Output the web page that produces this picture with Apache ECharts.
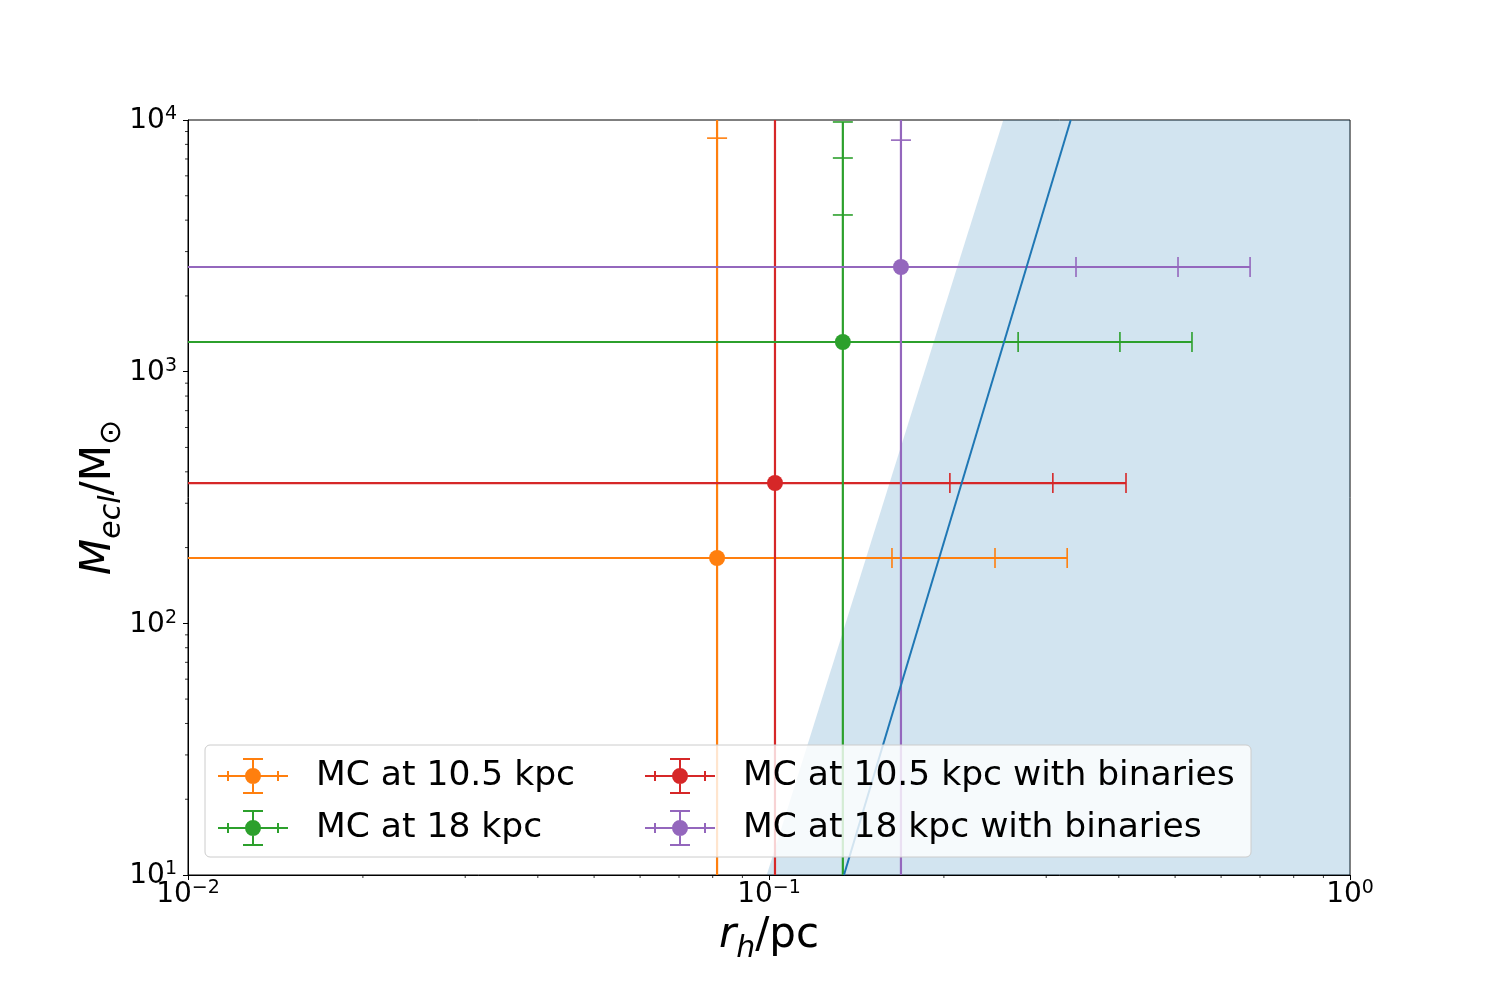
<!DOCTYPE html>
<html>
<head>
<meta charset="utf-8">
<script src="https://cdn.jsdelivr.net/npm/echarts@6/dist/echarts.min.js"></script>
<style>html,body{margin:0;background:#fff}#main{width:1500px;height:1000px}</style>
</head>
<body>
<div id="main"></div>
<script>
// clusters: centre values and three error sizes each
var names = ['MC at 10.5 kpc', 'MC at 10.5 kpc with binaries', 'MC at 18 kpc', 'MC at 18 kpc with binaries'];
var colors = ['#ff7f0e', '#d62728', '#2ca02c', '#9467bd'];
var rh = [0.0814, 0.1024, 0.134, 0.1687];
var mecl = [181.8, 361, 1312, 2605];
var rhErr = [[0.0814, 0.1635, 0.2446], [0.1024, 0.2056, 0.3092], [0.1344, 0.2678, 0.4006], [0.1689, 0.3371, 0.5043]];
var meclErr = [[8290, 16580, 24870], [12000, 24000, 36000], [2882, 5751, 8508], [5713, 11430, 17140]];
// limit line and shaded zone
var lineRh = [0.1346, 0.3306];
var lineM = [10, 10000];
var shadeRh = [0.0991, 0.2531, 1];
var shadeM = [10, 10000, 10000];
// minor tick values (2..9 per decade)
var minorX = [], minorY = [];
[0.01, 0.1].forEach(function (d) { for (var k = 2; k < 10; k++) minorX.push(k * d); });
[10, 100, 1000].forEach(function (d) { for (var k = 2; k < 10; k++) minorY.push(k * d); });

var font = 'DejaVu Sans';
var chart = echarts.init(document.getElementById('main'));

function powLabel(v) {
    var e = Math.round(Math.log10(v));
    return '{b|10}{s|' + (e < 0 ? '\u2212' + (-e) : e) + '}';
}
var tickRich = {
    b: {fontSize: 28, fontFamily: font, color: '#000', lineHeight: 30, verticalAlign: 'bottom'},
    s: {fontSize: 19, fontFamily: font, color: '#000', lineHeight: 20, padding: [0, 0, 12, 0], verticalAlign: 'top'}
};
var nameRich = {
    i: {fontSize: 42, fontFamily: font, fontStyle: 'italic', color: '#000', lineHeight: 46, verticalAlign: 'top'},
    n: {fontSize: 42, fontFamily: font, color: '#000', lineHeight: 46, verticalAlign: 'top'},
    sub: {fontSize: 30, fontFamily: font, fontStyle: 'italic', color: '#000', lineHeight: 32, padding: [19, 0, 0, 0], verticalAlign: 'top'},
    subn: {fontSize: 30, fontFamily: font, color: '#000', lineHeight: 32, padding: [19, 0, 0, 0], verticalAlign: 'top'}
};

function errRender(k) {
    return function (params, api) {
        var x = api.value(0), y = api.value(1);
        var col = colors[k];
        var ex = rhErr[k], ey = meclErr[k];
        var pos = function (v, fb) { return v > 0 ? v : fb; };
        var kids = [];
        function seg(a, b, w) {
            kids.push({type: 'line', shape: {x1: a[0], y1: a[1], x2: b[0], y2: b[1]},
                style: {stroke: col, lineWidth: w}});
        }
        // main bars
        seg(api.coord([pos(x - ex[2], 1e-6), y]), api.coord([x + ex[2], y]), 2.2);
        seg(api.coord([x, pos(y - ey[2], 1e-3)]), api.coord([x, y + ey[2]]), 2.2);
        // caps
        for (var i = 0; i < 3; i++) {
            var r = api.coord([x + ex[i], y]);
            seg([r[0], r[1] - 10], [r[0], r[1] + 10], 1.6);
            if (x - ex[i] > 0) {
                var l = api.coord([x - ex[i], y]);
                seg([l[0], l[1] - 10], [l[0], l[1] + 10], 1.6);
            }
            var t = api.coord([x, y + ey[i]]);
            seg([t[0] - 10, t[1]], [t[0] + 10, t[1]], 1.6);
            if (y - ey[i] > 0) {
                var b = api.coord([x, y - ey[i]]);
                seg([b[0] - 10, b[1]], [b[0] + 10, b[1]], 1.6);
            }
        }
        var c = api.coord([x, y]);
        kids.push({type: 'circle', shape: {cx: c[0], cy: c[1], r: 8}, style: {fill: col}});
        return {type: 'group', children: kids};
    };
}

// small outward ticks at the axis edges
function minorTick(dir) {
    return function (params, api) {
        var c = api.coord([api.value(0), api.value(1)]);
        var s = dir === 'x' ? {x1: c[0], y1: c[1], x2: c[0], y2: c[1] + 3}
                            : {x1: c[0], y1: c[1], x2: c[0] - 3, y2: c[1]};
        return {type: 'line', shape: s, style: {stroke: '#000', lineWidth: 0.8}};
    };
}

var errIcon = 'path://M0 17H70V19H0Z M34 0H36V36H34Z M25 0H45V2H25Z M25 34H45V36H25Z M9 13H11V23H9Z M59 13H61V23H59Z M43 18A8 8 0 1 1 27 18A8 8 0 1 1 43 18Z';

var series = [];
series.push({
    type: 'line', silent: true, z: 1, symbol: 'none',
    data: shadeRh.map(function (v, i) { return [v, shadeM[i]]; }),
    lineStyle: {opacity: 0, width: 0},
    areaStyle: {color: 'rgba(31,119,180,0.2)', opacity: 1, origin: 'start'}
});
names.forEach(function (n, k) {
    series.push({
        type: 'custom', name: n, z: 2, clip: true,
        itemStyle: {color: colors[k]},
        data: [[rh[k], mecl[k]]],
        encode: {x: 0, y: 1},
        renderItem: errRender(k)
    });
});
series.push({
    type: 'line', silent: true, z: 3, symbol: 'none',
    data: lineRh.map(function (v, i) { return [v, lineM[i]]; }),
    lineStyle: {color: '#1f77b4', width: 2}
});
series.push({
    type: 'custom', silent: true, clip: false, z: 4,
    data: minorX.map(function (v) { return [v, 10]; }),
    renderItem: minorTick('x')
});
series.push({
    type: 'custom', silent: true, clip: false, z: 4,
    data: minorY.map(function (v) { return [0.01, v]; }),
    renderItem: minorTick('y')
});

var legendText = {fontSize: 34.5, fontFamily: font, color: '#000', padding: [0, 0, 0, 23]};

chart.setOption({
    animation: false,
    backgroundColor: '#fff',
    grid: {left: 188, right: 150, top: 120, bottom: 125, show: true, borderColor: '#000', borderWidth: 1, backgroundColor: 'transparent'},
    xAxis: {
        type: 'log', logBase: 10, min: 0.01, max: 1,
        name: '{i|r}{sub|h}{n|/pc}', nameLocation: 'middle', nameGap: 38,
        nameTextStyle: {rich: nameRich},
        splitLine: {show: false},
        axisLine: {lineStyle: {color: '#000', width: 1}},
        axisTick: {length: 5, lineStyle: {color: '#000', width: 1}},
        axisLabel: {margin: 4, formatter: powLabel, rich: tickRich}
    },
    yAxis: {
        type: 'log', logBase: 10, min: 10, max: 10000,
        name: '{i|M}{sub|ecl}{n|/M}{subn|\u2299}', nameLocation: 'middle', nameGap: 64,
        nameMoveOverlap: false,
        nameTextStyle: {rich: nameRich},
        splitLine: {show: false},
        axisLine: {lineStyle: {color: '#000', width: 1}},
        axisTick: {length: 5, lineStyle: {color: '#000', width: 1}},
        axisLabel: {margin: 11, formatter: powLabel, rich: tickRich}
    },
    graphic: [{
        type: 'rect', z: 15,
        shape: {x: 205, y: 745, width: 1046, height: 112, r: 5},
        style: {fill: 'rgba(255,255,255,0.8)', stroke: '#cccccc', lineWidth: 1}
    }],
    legend: [{
        orient: 'vertical', left: 213, top: 753, z: 20, itemGap: 16,
        itemWidth: 70, itemHeight: 36, selectedMode: false, textStyle: legendText,
        data: [{name: names[0], icon: errIcon}, {name: names[2], icon: errIcon}]
    }, {
        orient: 'vertical', left: 640, top: 753, z: 20, itemGap: 16,
        itemWidth: 70, itemHeight: 36, selectedMode: false, textStyle: legendText,
        data: [{name: names[1], icon: errIcon}, {name: names[3], icon: errIcon}]
    }],
    series: series
});
</script>
</body>
</html>
